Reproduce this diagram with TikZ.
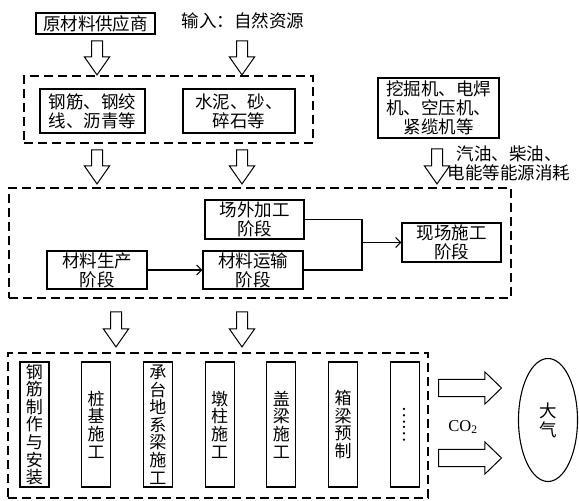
\documentclass[tikz,border=0pt]{standalone}
\usepackage{fontspec}
\setmainfont{Liberation Serif}
\newfontfamily\cjk{Noto Sans CJK SC}
\usepackage{graphicx}
\usetikzlibrary{arrows.meta, positioning, shapes.arrows, shapes.geometric}

\begin{document}
\begin{tikzpicture}[
		x=1pt, y=-1pt,
		node distance=31.6pt,
		font=\cjk\fontsize{17.5}{19}\selectfont,
		% Styles
		kuang/.style={draw=black, line width=1.1pt, inner sep=1pt, align=center},
		xukuang/.style={draw=black, line width=1.3pt, dash pattern=on 9pt off 5pt, inner sep=0pt},
		shukuang/.style={draw=black, line width=1.1pt, inner sep=0pt, align=center, minimum width=29pt, minimum height=125pt, font=\cjk\fontsize{17}{17.6}\selectfont},
		kongjian/.style={draw=black, line width=1pt, single arrow, rotate=-90, inner sep=0pt, inner ysep=5pt, minimum width=18pt, single arrow tip angle=70},
		dajiantou/.style={draw=black, line width=1pt, single arrow, inner sep=0pt, inner ysep=8pt, minimum width=32pt, minimum height=63pt, single arrow tip angle=88},
		lianxian/.style={line width=1.2pt},
		]
		
		\useasboundingbox (0,0) rectangle (579,501);
		
		% Oben: Rohstoffe
		\node[kuang, minimum width=119pt, minimum height=21pt] (gongying) at (95.5,23.5) {原材料供应商};
		\node (shuru) at (243,21) {输入：自然资源};
		\node[kongjian, minimum height=34pt] (jt1) at (97,54) {};
		\node[kongjian, minimum height=34pt] (jt2) at (242,54) {};
		
		\node[xukuang, minimum width=289pt, minimum height=67pt] (zu1) at (168.5,109.5) {};
		\node[kuang, minimum width=105pt, minimum height=44pt] (gangjin) at (92.5,111) {钢筋、钢绞\\线、沥青等};
		\node[kuang, minimum width=112pt, minimum height=44pt] (shuini) at (239,111) {水泥、砂、\\碎石等};
		
		\node[kuang, minimum width=121pt, minimum height=60pt] (jixie) at (438.5,108) {挖掘机、电焊\\机、空压机、\\紧缆机等};
		\node[kongjian, minimum height=35pt] (jt3) at (437,162.5) {};
		\node[align=center] (nengyuan) at (509,163) {汽油、柴油、\\电能等能源消耗};
		
		\node[kongjian, minimum height=34pt] (jt4) at (97,163) {};
		\node[kongjian, minimum height=34pt] (jt5) at (242,163) {};
		
		% Mitte: Phasen
		\node[xukuang, minimum width=502pt, minimum height=110pt] (zu2) at (260,243) {};
		\node[kuang, minimum width=99pt, minimum height=39pt] (changwai) at (254.5,219.5) {场外加工\\阶段};
		\node[kuang, minimum width=100pt, minimum height=38pt] (shengchan) at (97,270) {材料生产\\阶段};
		\node[kuang, minimum width=100pt, minimum height=38pt] (yunshu) at (253,270) {材料运输\\阶段};
		\node[kuang, minimum width=99pt, minimum height=39pt] (xianchang) at (451.5,242.5) {现场施工\\阶段};
		\coordinate (hui) at (362,242.5);
		
		\draw[lianxian, -{Straight Barb[length=5pt]}] (shengchan) -- (yunshu);
		\draw[lianxian] (changwai.east) -| (hui);
		\draw[lianxian] (yunshu.east) -| (hui);
		\draw[lianxian, -{Straight Barb[length=5pt]}] (hui) -- (xianchang);
		
		\node[kongjian, minimum height=35pt] (jt6) at (116,325.5) {};
		\node[kongjian, minimum height=35pt] (jt7) at (242,325.5) {};
		
		% Unten: Bauabschnitte
		\node[xukuang, minimum width=420pt, minimum height=145pt] (zu3) at (218,425.5) {};
		\node[shukuang] (s1) at (34.5,424.5) {钢\\筋\\制\\作\\与\\安\\装};
		\node[shukuang, right=of s1] (s2) {桩\\基\\施\\工};
		\node[shukuang, right=of s2] (s3) {承\\台\\地\\系\\梁\\施\\工};
		\node[shukuang, right=of s3] (s4) {墩\\柱\\施\\工};
		\node[shukuang, right=of s4] (s5) {盖\\梁\\施\\工};
		\node[shukuang, right=of s5] (s6) {箱\\梁\\预\\制};
		\node[shukuang, right=of s6] (s7) {\rotatebox{-90}{……}};
		
		\node[dajiantou] (pai1) at (465.5,388) {};
		\node[dajiantou] (pai2) at (465.5,458) {};
		\node[font=\rmfamily\fontsize{16.5}{18}\selectfont] (co2) at (463,427) {CO\textsubscript{2}};
		\node[draw=black, ellipse, line width=1.1pt, minimum width=59pt, minimum height=123pt, inner sep=0pt, align=center] (daqi) at (548,420) {大\\气};
		
	\end{tikzpicture}
\end{document}
